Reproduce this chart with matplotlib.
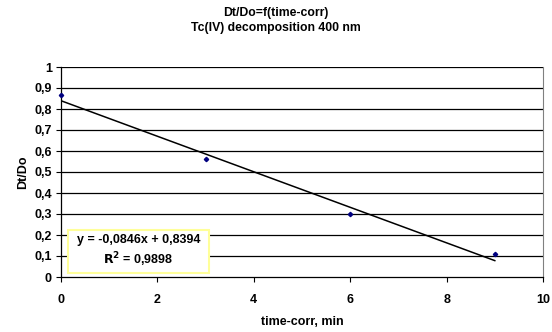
import numpy as np
import matplotlib.pyplot as plt
from matplotlib.patches import Rectangle

plt.rcParams['font.family'] = ['Liberation Sans', 'DejaVu Sans']

# measured points
time_corr = [0, 3, 6, 9]
dt_do = [0.866, 0.562, 0.299, 0.108]

# linear trend (as reported)
slope = -0.0846
intercept = 0.8394
r2 = 0.9898

x_ticks = [0, 2, 4, 6, 8, 10]
y_ticks = [0, 0.1, 0.2, 0.3, 0.4, 0.5, 0.6, 0.7, 0.8, 0.9, 1]

def comma(v):
    return ('%g' % v).replace('.', ',')

fig = plt.figure(figsize=(5.52, 3.32), dpi=100)
ax = fig.add_axes([61 / 552, 1 - 277 / 332, 482 / 552, 210 / 332])

for yv in y_ticks[1:]:
    ax.axhline(yv, color='black', lw=0.9, zorder=1)

xfit = np.array([0, 9])
ax.plot(xfit, slope * xfit + intercept, color='black', lw=1.1, zorder=2)
ax.plot(time_corr, dt_do, linestyle='none', marker='D', ms=2.2,
        color='#000080', zorder=3, clip_on=False)

ax.set_xlim(0, 10)
ax.set_ylim(0, 1)
ax.set_xticks(x_ticks)
ax.set_xticklabels([comma(v) for v in x_ticks], fontweight='bold', fontsize=9)
ax.set_yticks(y_ticks)
ax.set_yticklabels([comma(v) for v in y_ticks], fontweight='bold', fontsize=9)
ax.tick_params(direction='out', length=3.5, width=0.8, pad=3)
ax.tick_params(axis='x', pad=9)

ax.spines['top'].set_visible(False)
ax.spines['right'].set_color('#808080')
for s in ['left', 'bottom']:
    ax.spines[s].set_linewidth(0.9)

ax.set_xlabel('time-corr, min', fontweight='bold', fontsize=9, labelpad=7)
ax.set_ylabel('Dt/Do', fontweight='bold', fontsize=9, labelpad=4)

fig.text(0.5, 1 - 20.5 / 332, 'Dt/Do=f(time-corr)\nTc(IV) decomposition 400 nm',
         ha='center', va='center', fontweight='bold', fontsize=8.8,
         linespacing=1.25)

# trendline equation box
box = Rectangle((0.0145, 0.019), 0.2925, 0.205, transform=ax.transAxes,
                fc='white', ec='#FFFF99', lw=1.5, zorder=4)
ax.add_patch(box)
eq = 'y = %sx + %s\n$\\mathbf{R^2}$ = %s' % (
    ('%.4f' % slope).replace('.', ','),
    ('%.4f' % intercept).replace('.', ','),
    ('%.4f' % r2).replace('.', ','))
ax.text(0.0145 + 0.2925 / 2, 0.019 + 0.205 / 2, eq, transform=ax.transAxes,
        ha='center', va='center', fontweight='bold',
        fontsize=9, linespacing=1.35, zorder=5)

fig.savefig('out.png', dpi=100)
